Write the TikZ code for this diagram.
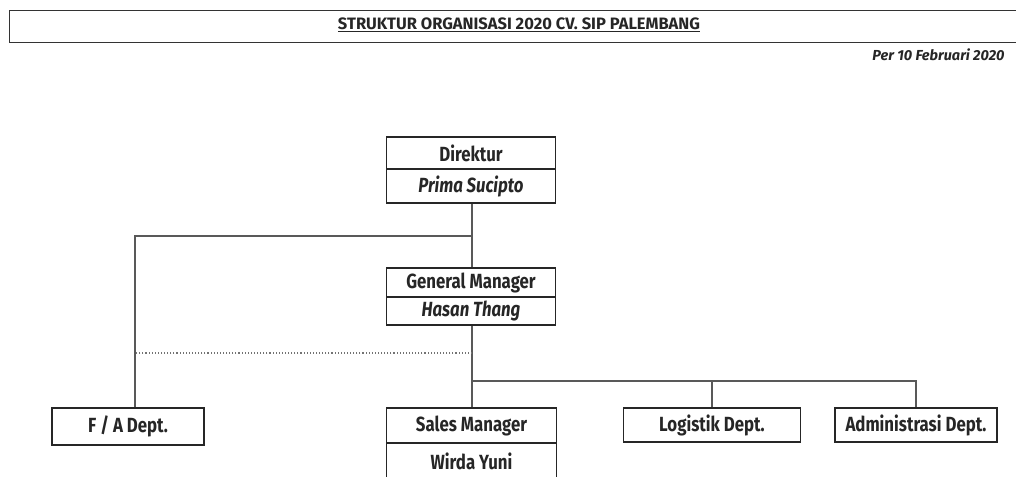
\documentclass[tikz,border=0pt]{standalone}
\usepackage{fontspec}
\setmainfont{Fira Sans}[FakeStretch=0.82]
\newfontfamily\wideff{Fira Sans}
\begin{document}
\begin{tikzpicture}[x=1pt,y=-1pt,
  box/.style={draw=black!85,line width=1.8pt,rectangle,inner sep=0pt,font=\fontsize{20.5}{23}\selectfont\bfseries,text=black!85},
  namebox/.style={box,font=\fontsize{20.5}{23}\selectfont\bfseries\itshape},
  conn/.style={draw=black!65,line width=1.1pt},
  dots/.style={draw=black!55,line width=1.1pt,dotted}]
\useasboundingbox (0,0) rectangle (1016,476);
% title
\node[draw=black!80,line width=1.3pt,minimum width=1010pt,minimum height=32pt,anchor=north west,inner sep=0pt] (title) at (9,10) {};
\node[font=\wideff\fontsize{16.5}{18}\selectfont\bfseries,text=black!85] (ttext) at (519,25) {\underline{STRUKTUR ORGANISASI 2020 CV. SIP PALEMBANG}};
\node[font=\wideff\fontsize{14.5}{16}\selectfont\bfseries\itshape,text=black!85,anchor=east] (per) at (1008,55) {Per 10 Februari 2020};
% Direktur
\node[box,minimum width=169pt,minimum height=32pt] (dir) at (471,153) {Direktur};
\node[namebox,minimum width=169pt,minimum height=34pt] (dirn) at (471,186) {Prima Sucipto};
% General Manager
\node[box,minimum width=169pt,minimum height=29pt] (gm) at (471,282.5) {General Manager};
\node[namebox,minimum width=169pt,minimum height=28pt] (gmn) at (471,311) {Hasan Thang};
% Sales
\node[box,minimum width=170pt,minimum height=35pt] (sm) at (471.5,425.5) {Sales Manager};
\node[box,minimum width=170pt,minimum height=36pt] (smn) at (471.5,461) {Wirda Yuni};
% departments
\node[box,minimum width=152pt,minimum height=37pt] (fa) at (128,426.5) {F / A Dept.};
\node[box,minimum width=177pt,minimum height=34pt] (log) at (712,425) {Logistik Dept.};
\node[box,minimum width=162pt,minimum height=34pt] (adm) at (916,425) {Administrasi Dept.};
% connectors
\coordinate (j1) at (472,236);
\coordinate (j2) at (472,381);
\coordinate (d1) at (472,353);
\draw[conn] (dirn.south -| j1) -- (gm.north -| j1);
\draw[conn] (gmn.south -| j1) -- (sm.north -| j1);
\draw[conn] (j1) -| (fa.north -| 135,0);
\draw[dots] (d1) -- (135,353);
\draw[conn] (j2) -| (log.north);
\draw[conn] (j2) -| (adm.north);
\end{tikzpicture}
\end{document}
